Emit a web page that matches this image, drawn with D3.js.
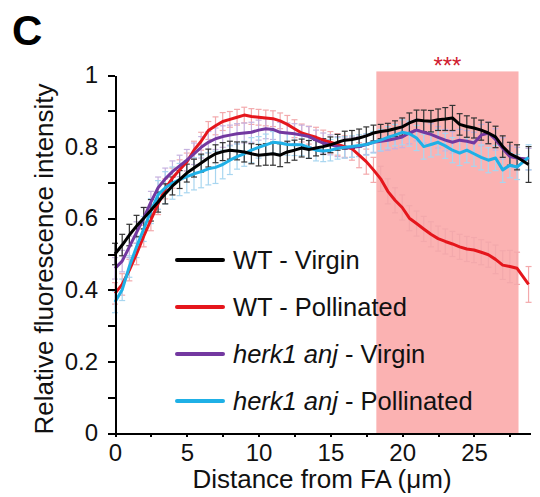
<!DOCTYPE html>
<html>
<head>
<meta charset="utf-8">
<script src="https://cdn.jsdelivr.net/npm/d3@7"></script>
<style>
  body { margin: 0; background: #fff; }
  svg { display: block; font-family: "Liberation Sans", Arial, sans-serif; }
  .axis path, .axis line { stroke: #000; stroke-width: 2; shape-rendering: crispEdges; }
  .axis text { font-size: 24px; fill: #111; font-family: "Liberation Sans", Arial, sans-serif; }
  .axisTitle { font-size: 26px; fill: #111; }
  .legend text { font-size: 25.5px; fill: #111; }
</style>
</head>
<body>
<script>
const w = 540;
const h = 497;
const margin = {left:115, right:10, top:75, bottom:64};

// distance from FA (um)
const distance = [0,0.5,1,1.5,2,2.5,3,3.5,4,4.5,5,5.5,6,6.5,7,7.5,8,8.5,9,9.5,
  10,10.5,11,11.5,12,12.5,13,13.5,14,14.5,15,15.5,16,16.5,17,17.5,18,18.5,19,19.5,
  20,20.5,21,21.5,22,22.5,23,23.5,24,24.5,25,25.5,26,26.5,27,27.5,28,28.8];

const wtVirgin = [0.50,0.525,0.553,0.578,0.60,0.622,0.645,0.668,0.69,0.708,
  0.726,0.74,0.754,0.768,0.78,0.786,0.79,0.788,0.785,0.78,
  0.776,0.778,0.78,0.776,0.785,0.79,0.796,0.792,0.796,0.80,
  0.805,0.812,0.818,0.82,0.824,0.83,0.838,0.842,0.845,0.85,
  0.855,0.866,0.874,0.872,0.871,0.875,0.877,0.88,0.862,0.856,
  0.852,0.846,0.838,0.827,0.80,0.78,0.77,0.75];
const wtVirginErr = [0.03,0.03,0.03,0.03,0.03,0.03,0.028,0.028,0.025,0.025,
  0.025,0.025,0.025,0.025,0.025,0.025,0.025,0.025,0.028,0.028,
  0.03,0.03,0.032,0.032,0.03,0.028,0.025,0.025,0.022,0.022,
  0.022,0.022,0.025,0.025,0.025,0.025,0.022,0.02,0.02,0.022,
  0.025,0.028,0.028,0.03,0.03,0.03,0.032,0.035,0.03,0.03,
  0.028,0.028,0.03,0.03,0.03,0.032,0.035,0.05];

const wtPollinated = [0.39,0.415,0.455,0.50,0.55,0.595,0.64,0.682,0.712,0.735,
  0.757,0.79,0.815,0.845,0.858,0.87,0.876,0.882,0.888,0.884,
  0.882,0.88,0.878,0.872,0.862,0.85,0.838,0.832,0.826,0.818,
  0.812,0.806,0.80,0.794,0.776,0.758,0.735,0.71,0.675,0.65,
  0.63,0.60,0.585,0.57,0.555,0.543,0.535,0.528,0.52,0.514,
  0.511,0.505,0.498,0.485,0.469,0.465,0.46,0.415];
const wtPollinatedErr = [0.03,0.03,0.03,0.03,0.03,0.03,0.03,0.028,0.028,0.028,
  0.025,0.025,0.025,0.025,0.025,0.025,0.022,0.022,0.022,0.022,
  0.022,0.022,0.022,0.022,0.025,0.025,0.025,0.025,0.028,0.028,
  0.03,0.03,0.03,0.032,0.035,0.035,0.035,0.035,0.035,0.035,
  0.035,0.035,0.035,0.035,0.035,0.035,0.035,0.035,0.035,0.035,
  0.035,0.035,0.035,0.04,0.04,0.045,0.045,0.05];

const anjVirgin = [0.46,0.48,0.52,0.56,0.60,0.645,0.685,0.71,0.73,0.746,
  0.762,0.78,0.798,0.812,0.822,0.828,0.832,0.836,0.838,0.84,
  0.846,0.85,0.848,0.84,0.838,0.836,0.832,0.828,0.818,0.81,
  0.805,0.80,0.796,0.798,0.80,0.806,0.812,0.815,0.818,0.822,
  0.827,0.838,0.846,0.84,0.834,0.826,0.818,0.812,0.818,0.815,
  0.81,0.832,0.838,0.82,0.795,0.772,0.768,0.765];
const anjVirginErr = [0.03,0.03,0.03,0.03,0.03,0.03,0.03,0.03,0.03,0.03,
  0.03,0.03,0.03,0.03,0.03,0.03,0.028,0.028,0.028,0.028,
  0.028,0.028,0.028,0.028,0.028,0.028,0.028,0.028,0.028,0.028,
  0.028,0.028,0.028,0.028,0.028,0.028,0.028,0.028,0.028,0.028,
  0.03,0.03,0.03,0.03,0.03,0.03,0.03,0.03,0.03,0.03,
  0.03,0.03,0.03,0.03,0.03,0.03,0.03,0.03];

const anjPollinated = [0.366,0.40,0.465,0.52,0.57,0.62,0.665,0.685,0.698,0.708,
  0.716,0.724,0.73,0.738,0.742,0.75,0.762,0.772,0.78,0.79,
  0.798,0.805,0.812,0.81,0.806,0.805,0.805,0.798,0.79,0.788,
  0.79,0.795,0.798,0.80,0.803,0.806,0.812,0.818,0.826,0.832,
  0.84,0.836,0.824,0.80,0.806,0.812,0.802,0.79,0.782,0.79,
  0.78,0.77,0.762,0.768,0.735,0.748,0.743,0.77];
const anjPollinatedErr = [0.03,0.03,0.03,0.03,0.035,0.035,0.04,0.045,0.045,0.045,
  0.045,0.045,0.045,0.045,0.045,0.04,0.04,0.035,0.035,0.035,
  0.03,0.03,0.03,0.03,0.03,0.03,0.03,0.03,0.03,0.03,
  0.03,0.03,0.03,0.03,0.03,0.03,0.03,0.03,0.03,0.03,
  0.035,0.035,0.035,0.035,0.035,0.035,0.035,0.035,0.035,0.035,
  0.035,0.035,0.035,0.035,0.035,0.035,0.035,0.035];

const xTicks = [0,2.5,5,7.5,10,12.5,15,17.5,20,22.5,25,27.5];
const xTickLabels = ["0","5","10","15","20","25"];
const yTicks = [0,0.1,0.2,0.3,0.4,0.5,0.6,0.7,0.8,0.9,1];
const yTickLabels = ["0","0.2","0.4","0.6","0.8","1"];
const sigRegion = [18.2, 28.1];

const series = [
  {name:"WT - Pollinated", italic:"", values:wtPollinated, err:wtPollinatedErr, color:"#e5161c", errColor:"#f3a9ac"},
  {name:" - Virgin", italic:"herk1 anj", values:anjVirgin, err:anjVirginErr, color:"#7338a0", errColor:"#c6b2e0"},
  {name:" - Pollinated", italic:"herk1 anj", values:anjPollinated, err:anjPollinatedErr, color:"#1fb0e6", errColor:"#a8d6f0"},
  {name:"WT - Virgin", italic:"", values:wtVirgin, err:wtVirginErr, color:"#000000", errColor:"#333333"}
];
const legendOrder = [3,0,1,2];

const x = d3.scaleLinear().domain([0,28.9]).range([margin.left, w-margin.right]);
const y = d3.scaleLinear().domain([0,1]).range([h-margin.bottom, margin.top]);

const svg = d3.select("body").append("svg")
  .attr("width", w)
  .attr("height", h);

//significance band
svg.append("rect")
  .attr("x", x(sigRegion[0]))
  .attr("y", y(1.01))
  .attr("width", x(sigRegion[1]) - x(sigRegion[0]))
  .attr("height", y(0) - y(1.01))
  .attr("fill", "#fbb2b2");

svg.append("text")
  .attr("x", x((sigRegion[0]+sigRegion[1])/2))
  .attr("y", 74)
  .attr("text-anchor", "middle")
  .attr("fill", "#d02030")
  .style("font-size", "24px")
  .text("***");

//error bars
series.forEach(function(s) {
  const g = svg.append("g").attr("stroke", s.errColor).attr("stroke-width", 1.2);
  distance.forEach(function(d, i) {
    const lo = y(s.values[i] - s.err[i]);
    const hi = y(s.values[i] + s.err[i]);
    g.append("line").attr("x1", x(d)).attr("x2", x(d)).attr("y1", lo).attr("y2", hi);
    g.append("line").attr("x1", x(d)-3).attr("x2", x(d)+3).attr("y1", lo).attr("y2", lo);
    g.append("line").attr("x1", x(d)-3).attr("x2", x(d)+3).attr("y1", hi).attr("y2", hi);
  });
});

//mean lines
const line = d3.line()
  .x((d, i) => x(distance[i]))
  .y(d => y(d));
series.forEach(function(s) {
  svg.append("path")
    .attr("d", line(s.values))
    .attr("fill", "none")
    .attr("stroke", s.color)
    .attr("stroke-width", 3)
    .attr("stroke-linejoin", "round");
});

//y axis
svg.append("g")
  .attr("class", "axis")
  .attr("transform", "translate("+margin.left+",0)")
  .call(d3.axisLeft(y).tickValues(yTicks).tickSize(7).tickSizeOuter(0).tickPadding(10)
    .tickFormat(d => {
      const lab = yTickLabels.find(t => Math.abs(+t - d) < 1e-6);
      return lab === undefined ? "" : lab;
    }));

//x axis
svg.append("g")
  .attr("class", "axis")
  .attr("transform", "translate(0,"+y(0)+")")
  .call(d3.axisBottom(x).tickValues(xTicks).tickSize(4).tickSizeOuter(0).tickPadding(7)
    .tickFormat(d => {
      const lab = xTickLabels.find(t => +t === d);
      return lab === undefined ? "" : lab;
    }));

//axis titles
svg.append("text")
  .attr("class", "axisTitle")
  .attr("x", 322)
  .attr("y", 488)
  .attr("text-anchor", "middle")
  .text("Distance from FA (\u03bcm)");
svg.append("text")
  .attr("class", "axisTitle")
  .attr("transform", "translate(53,259) rotate(-90)")
  .attr("text-anchor", "middle")
  .text("Relative fluorescence intensity");

//panel label
svg.append("text")
  .attr("x", 12)
  .attr("y", 45)
  .style("font-size", "42px")
  .style("font-weight", "bold")
  .text("C");

//legend
const legend = svg.append("g").attr("class", "legend");
legendOrder.forEach(function(k, i) {
  const s = series[k];
  const ly = 260 + i*47;
  legend.append("line")
    .attr("x1", 177).attr("x2", 223)
    .attr("y1", ly).attr("y2", ly)
    .attr("stroke", s.color)
    .attr("stroke-width", 4)
    .attr("stroke-linecap", "round");
  const t = legend.append("text").attr("x", 233).attr("y", ly + 9);
  if (s.italic) t.append("tspan").style("font-style", "italic").text(s.italic);
  t.append("tspan").text(s.name);
});
</script>
</body>
</html>
